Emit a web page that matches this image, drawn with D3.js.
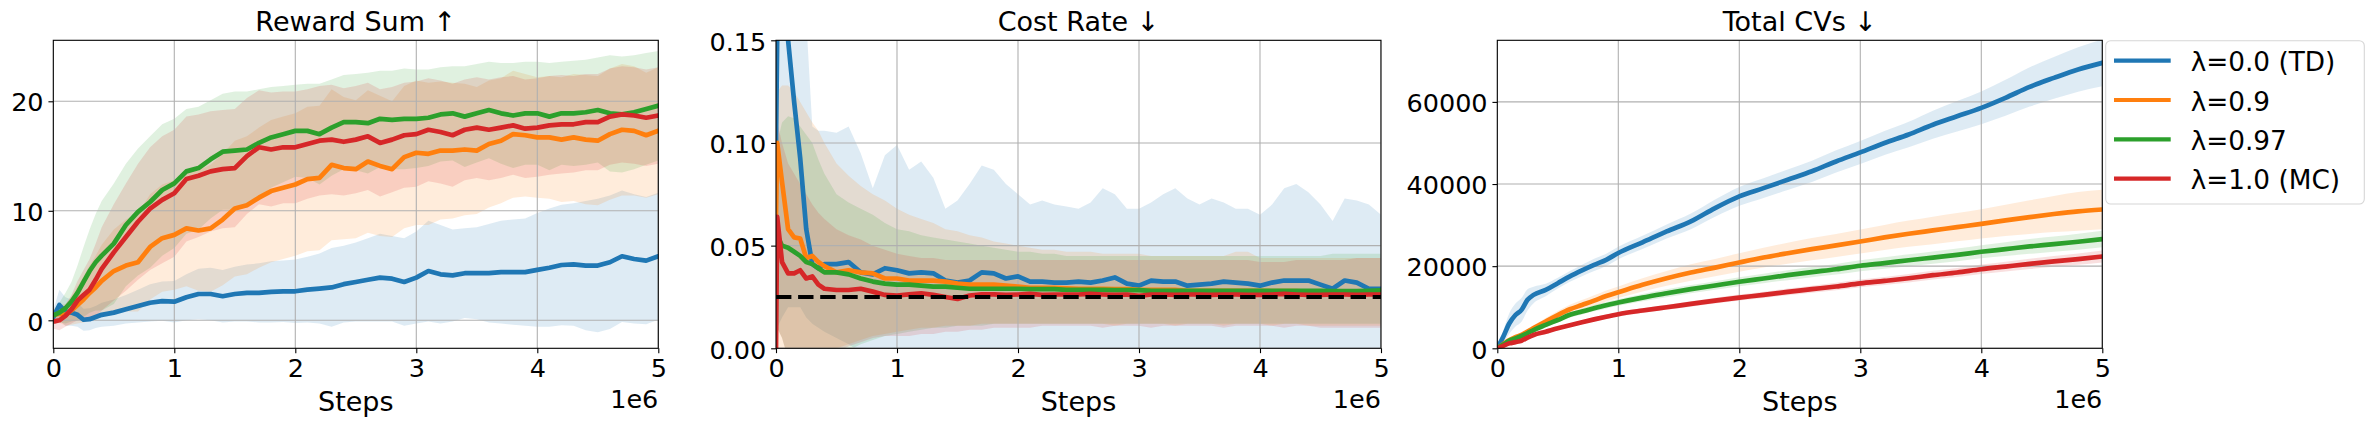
<!DOCTYPE html>
<html><head><meta charset="utf-8">
<script src="https://cdn.jsdelivr.net/npm/d3@7"></script>
<style>
html,body{margin:0;padding:0;background:#fff;}
svg{display:block;font-family:'DejaVu Sans',sans-serif;}
</style></head><body>
<svg id="chart" width="2373" height="427"></svg>
<script>
// ---------------- DATA ----------------
const seriesNames = ["λ=0.0 (TD)", "λ=0.9", "λ=0.97", "λ=1.0 (MC)"];
const seriesColors = ["#1f77b4", "#ff7f0e", "#2ca02c", "#d62728"];
const panelTitles = ["Reward Sum ↑", "Cost Rate ↓", "Total CVs ↓"];
const xTickLabels = ["0", "1", "2", "3", "4", "5"];
const rewardTicks = [0, 10, 20];
const costTicks = [0, 0.05, 0.10, 0.15];
const cvTicks = [0, 20000, 40000, 60000];
const costLimit = 0.025;

// steps in units of 1e6
const steps12 = [0,0.01,0.05,0.1,0.15,0.2,0.25,0.3,0.35,0.4,
  0.5,0.6,0.7,0.8,0.9,1.0,1.1,1.2,1.3,1.4,
  1.5,1.6,1.7,1.8,1.9,2.0,2.1,2.2,2.3,2.4,
  2.5,2.6,2.7,2.8,2.9,3.0,3.1,3.2,3.3,3.4,
  3.5,3.6,3.7,3.8,3.9,4.0,4.1,4.2,4.3,4.4,
  4.5,4.6,4.7,4.8,4.9,5.0];
const steps3 = [0,0.05,0.1,0.15,0.2,0.25,0.3,0.4,0.5,0.6,0.7,0.8,0.9,1.0,
  1.2,1.4,1.6,1.8,2.0,2.2,2.4,2.6,2.8,3.0,3.2,3.4,3.6,3.8,4.0,4.2,4.4,4.6,4.8,5.0];

// Reward Sum (mean, std)
const rewardMean_TD = [0.3,0.5,1.4,0.8,0.7,0.5,0.05,0.1,0.3,0.5,
  0.7,1.0,1.3,1.6,1.75,1.7,2.1,2.4,2.4,2.2,
  2.4,2.5,2.5,2.6,2.65,2.65,2.8,2.9,3.0,3.3,
  3.5,3.7,3.9,3.8,3.5,3.9,4.5,4.2,4.1,4.3,
  4.3,4.3,4.4,4.4,4.4,4.6,4.8,5.05,5.1,5.0,
  5.0,5.3,5.85,5.6,5.45,5.85];
const rewardStd_TD = [0.8,0.8,1.4,1.3,1.2,1.1,1.0,1.0,1.0,1.1,
  1.2,1.3,1.5,1.7,1.8,1.9,2.1,2.3,2.4,2.4,
  2.5,2.6,2.7,2.8,2.8,2.9,3.0,3.2,3.6,3.5,
  3.6,3.8,4.0,3.9,4.0,4.2,4.6,4.5,4.2,4.1,
  4.2,4.5,4.7,4.8,4.9,5.2,5.4,5.5,5.6,5.9,
  6.1,6.1,6.0,5.9,5.8,5.8];
const rewardMean_09 = [0.5,0.5,0.6,0.5,0.9,1.4,1.9,2.5,3.0,3.6,
  4.5,5.0,5.3,6.7,7.5,7.8,8.4,8.2,8.4,9.2,
  10.2,10.5,11.2,11.8,12.1,12.4,12.9,13.0,14.2,13.9,
  13.8,14.5,14.1,13.8,14.9,15.3,15.2,15.5,15.5,15.6,
  15.5,16.1,16.4,17.0,16.9,16.7,16.7,16.5,16.7,16.5,
  16.4,17.0,17.4,17.3,16.9,17.3];
const rewardStd_09 = [0.6,0.6,0.8,1.0,1.3,1.7,2.1,2.5,2.9,3.3,
  3.8,4.2,4.5,4.8,4.9,5.0,5.3,5.5,5.8,6.0,
  6.2,6.3,6.4,6.5,6.5,6.5,6.6,6.6,6.9,6.5,
  6.3,6.5,6.4,6.2,6.5,6.6,6.5,6.3,6.2,6.0,
  5.8,5.8,5.7,5.8,5.6,5.5,5.6,5.7,5.8,5.9,
  5.9,6.0,6.0,5.9,5.7,5.8];
const rewardMean_097 = [0.5,0.5,0.7,1.1,1.7,2.5,3.5,4.5,5.3,5.9,
  7.0,8.7,9.9,10.8,11.9,12.5,13.6,13.9,14.7,15.4,
  15.5,15.6,16.2,16.7,17.0,17.3,17.3,17.0,17.6,18.1,
  18.1,18.0,18.4,18.3,18.4,18.4,18.5,18.8,18.9,18.6,
  18.9,19.2,18.9,18.7,18.9,18.9,18.6,18.9,18.9,19.0,
  19.2,18.9,18.8,19.0,19.3,19.6];
const rewardStd_097 = [0.5,0.5,0.9,1.4,1.8,2.5,3.2,3.8,4.4,5.0,
  5.5,5.6,5.8,6.0,6.0,5.9,5.7,5.6,5.4,5.3,
  5.4,5.3,4.9,4.6,4.4,4.2,4.3,4.6,4.4,4.3,
  4.4,4.6,4.4,4.5,4.6,4.5,4.4,4.3,4.3,4.6,
  4.5,4.4,4.6,4.8,4.7,4.7,4.9,4.7,4.8,4.8,
  4.8,5.3,5.3,5.2,5.1,5.0];
const rewardMean_MC = [-0.1,-0.1,0.0,0.4,1.0,1.8,2.3,2.8,3.7,4.7,
  6.2,7.6,9.0,10.2,11.0,11.6,12.9,13.2,13.6,13.8,
  13.9,15.0,15.8,15.6,15.8,15.8,16.1,16.4,16.5,16.3,
  16.5,16.8,16.2,16.5,16.9,17.0,17.4,17.2,16.9,17.4,
  17.6,17.4,17.6,17.8,17.5,17.6,17.8,17.9,17.9,18.1,
  18.1,18.6,18.8,18.7,18.5,18.7];
const rewardStd_MC = [0.7,0.7,0.9,1.0,1.3,1.8,2.3,2.8,3.3,3.8,
  4.4,4.9,5.3,5.6,5.8,5.8,5.7,5.6,5.5,5.4,
  5.4,5.3,5.2,5.2,5.1,5.1,5.0,5.0,5.0,4.9,
  4.9,4.9,4.9,4.8,4.8,4.8,4.7,4.7,4.7,4.6,
  4.6,4.6,4.6,4.5,4.5,4.5,4.5,4.5,4.4,4.4,
  4.4,4.4,4.4,4.4,4.4,4.4];

// Cost Rate (mean, lower, upper)
const costMean_TD = [0.100,0.152,0.158,0.150,0.120,0.0925,0.058,0.041,0.039,0.041,
  0.041,0.042,0.037,0.036,0.039,0.038,0.0365,0.037,0.0365,0.033,
  0.032,0.033,0.037,0.0365,0.034,0.035,0.0325,0.0325,0.032,0.032,
  0.0325,0.032,0.033,0.0345,0.0315,0.0305,0.033,0.0325,0.0325,0.0305,
  0.031,0.0315,0.0325,0.032,0.0315,0.0305,0.032,0.033,0.033,0.033,
  0.031,0.029,0.033,0.032,0.029,0.029];
const costLow_TD = [0.0,0.01,0.015,0.02,0.02,0.02,0.015,0.012,0.01,0.008,
  0.005,0.002,-0.002,-0.004,-0.005,-0.005,-0.005,-0.005,-0.005,-0.005,
  -0.005,-0.005,-0.005,-0.005,-0.005,-0.005,-0.005,-0.005,-0.005,-0.005,
  -0.005,-0.005,-0.005,-0.005,-0.005,-0.005,-0.005,-0.005,-0.005,-0.005,
  -0.005,-0.005,-0.005,-0.005,-0.005,-0.005,-0.005,-0.005,-0.005,-0.005,
  -0.005,-0.005,-0.005,-0.005,-0.005,-0.005];
const costHigh_TD = [0.25,0.30,0.30,0.30,0.28,0.22,0.16,0.108,0.106,0.106,
  0.105,0.108,0.095,0.078,0.094,0.099,0.087,0.091,0.083,0.068,
  0.072,0.080,0.089,0.087,0.080,0.075,0.070,0.072,0.070,0.069,
  0.068,0.071,0.078,0.075,0.068,0.068,0.071,0.075,0.078,0.073,
  0.070,0.073,0.071,0.068,0.068,0.065,0.070,0.078,0.080,0.076,
  0.070,0.062,0.073,0.072,0.070,0.065];
const costMean_09 = [0.065,0.100,0.081,0.058,0.054,0.0535,0.044,0.045,0.042,0.040,
  0.037,0.038,0.037,0.0365,0.034,0.034,0.033,0.033,0.033,0.0325,
  0.0315,0.031,0.031,0.031,0.0305,0.030,0.0295,0.0295,0.0295,0.0292,
  0.029,0.029,0.029,0.0288,0.0288,0.0285,0.0285,0.0285,0.0285,0.028,
  0.028,0.028,0.028,0.028,0.028,0.028,0.0278,0.0278,0.0278,0.0275,
  0.0275,0.0275,0.0275,0.0275,0.0272,0.027];
const costLow_09 = [-0.02,-0.02,-0.015,-0.01,-0.008,-0.006,-0.005,-0.004,-0.003,-0.002,
  0.000,0.002,0.004,0.006,0.007,0.008,0.009,0.010,0.010,0.011,
  0.011,0.011,0.012,0.012,0.012,0.012,0.012,0.012,0.012,0.012,
  0.012,0.012,0.012,0.011,0.012,0.012,0.012,0.012,0.011,0.012,
  0.012,0.012,0.011,0.012,0.012,0.012,0.011,0.012,0.012,0.011,
  0.011,0.011,0.011,0.011,0.011,0.011];
const costHigh_09 = [0.12,0.125,0.128,0.128,0.125,0.12,0.115,0.11,0.106,0.1,
  0.09,0.084,0.079,0.075,0.072,0.068,0.065,0.063,0.061,0.058,
  0.057,0.055,0.054,0.052,0.051,0.050,0.049,0.048,0.048,0.047,
  0.047,0.047,0.046,0.046,0.046,0.046,0.045,0.045,0.045,0.045,
  0.045,0.045,0.045,0.047,0.047,0.044,0.044,0.044,0.044,0.044,
  0.044,0.044,0.044,0.044,0.044,0.044];
const costMean_097 = [0.040,0.055,0.050,0.049,0.047,0.045,0.042,0.041,0.039,0.037,
  0.037,0.036,0.034,0.0325,0.0315,0.031,0.031,0.0305,0.030,0.030,
  0.0295,0.029,0.029,0.029,0.029,0.029,0.0288,0.0288,0.0288,0.0285,
  0.0285,0.0285,0.0285,0.0283,0.0283,0.0283,0.028,0.028,0.028,0.028,
  0.028,0.028,0.028,0.028,0.028,0.028,0.028,0.028,0.028,0.028,
  0.028,0.0278,0.0278,0.0278,0.028,0.0282];
const costLow_097 = [0.0,0.01,0.005,-0.005,-0.008,-0.01,-0.01,-0.01,-0.008,-0.006,
  -0.004,-0.001,0.002,0.004,0.006,0.007,0.008,0.009,0.010,0.010,
  0.011,0.011,0.011,0.012,0.012,0.012,0.012,0.012,0.012,0.012,
  0.012,0.012,0.012,0.012,0.012,0.012,0.012,0.012,0.012,0.012,
  0.012,0.012,0.012,0.012,0.012,0.012,0.012,0.012,0.012,0.012,
  0.012,0.012,0.012,0.012,0.012,0.012];
const costHigh_097 = [0.08,0.1,0.11,0.113,0.112,0.108,0.104,0.1,0.092,0.085,
  0.075,0.071,0.068,0.065,0.061,0.058,0.057,0.055,0.054,0.053,
  0.052,0.051,0.050,0.049,0.048,0.047,0.047,0.046,0.046,0.045,
  0.045,0.045,0.045,0.045,0.045,0.045,0.045,0.045,0.045,0.045,
  0.045,0.045,0.045,0.045,0.045,0.045,0.045,0.045,0.045,0.045,
  0.045,0.046,0.046,0.046,0.046,0.046];
const costMean_MC = [0.0,0.064,0.042,0.0365,0.0365,0.038,0.034,0.035,0.031,0.029,
  0.0284,0.0284,0.029,0.0276,0.026,0.0257,0.0263,0.0268,0.026,0.025,
  0.024,0.0257,0.0263,0.0263,0.026,0.0262,0.0265,0.026,0.0262,0.0262,
  0.0262,0.0265,0.0262,0.026,0.0262,0.0255,0.0262,0.0262,0.026,0.0262,
  0.0262,0.026,0.0262,0.0262,0.026,0.026,0.0262,0.0265,0.0262,0.026,
  0.026,0.0262,0.0262,0.026,0.0262,0.0262];
const costLow_MC = [0.0,0.01,0.005,-0.005,-0.01,-0.01,-0.01,-0.008,-0.006,-0.005,
  -0.002,0.001,0.003,0.005,0.006,0.006,0.006,0.007,0.007,0.008,
  0.008,0.009,0.009,0.010,0.010,0.010,0.010,0.011,0.011,0.011,
  0.011,0.011,0.010,0.011,0.011,0.011,0.010,0.011,0.011,0.011,
  0.011,0.011,0.010,0.011,0.011,0.011,0.011,0.010,0.011,0.011,
  0.010,0.010,0.010,0.010,0.010,0.010];
const costHigh_MC = [0.07,0.11,0.1,0.09,0.085,0.08,0.075,0.07,0.066,0.063,
  0.058,0.055,0.053,0.050,0.048,0.046,0.045,0.044,0.044,0.043,
  0.043,0.043,0.043,0.043,0.043,0.043,0.043,0.043,0.043,0.043,
  0.043,0.043,0.043,0.043,0.043,0.043,0.043,0.043,0.043,0.043,
  0.043,0.043,0.043,0.043,0.043,0.042,0.042,0.042,0.043,0.043,
  0.043,0.043,0.043,0.044,0.044,0.044];

// Total CVs (mean, std)
const cvMean_TD = [0,2850,6100,8100,9350,11800,13000,14200,15850,17500,18950,20300,21550,23200,
  25800,28450,30900,34150,37000,39000,41050,43100,45500,47700,50000,52050,54450,56500,58550,61000,63650,65850,67900,69500];
const cvStd_TD = [0,1500,2500,2800,2900,2600,2000,1500,1300,1300,1400,1500,1500,1500,
  1600,1700,1900,2100,2300,2400,2500,2600,2700,2800,2900,3100,3400,3700,4000,4400,4800,5100,5400,5700];
const cvMean_09 = [0,1000,2000,2700,3250,4100,4900,6500,8100,9500,10550,11600,12750,13650,
  15450,17050,18450,19650,20900,22100,23150,24150,25050,26000,27000,27900,28700,29500,30300,31150,31950,32700,33350,33800];
const cvStd_09 = [0,150,300,400,500,600,700,900,1000,1100,1200,1300,1350,1400,
  1600,1800,2000,2100,2250,2400,2550,2700,2800,2900,3050,3200,3350,3450,3550,3800,4100,4400,4700,4800];
const cvMean_097 = [0,900,1850,2400,3000,3700,4450,5700,6900,8150,8950,9750,10500,11150,
  12350,13400,14400,15300,16200,17000,17800,18550,19250,20100,20750,21450,22100,22750,23500,24150,24800,25350,25950,26600];
const cvStd_097 = [0,120,250,330,400,450,500,550,600,650,700,750,780,800,
  880,950,1000,1050,1100,1150,1200,1250,1300,1350,1400,1450,1500,1550,1600,1700,1800,1850,1950,2000];
const cvMean_MC = [0,600,1200,1500,1850,2600,3250,4050,4900,5600,6350,7050,7700,8300,
  9200,10000,10800,11600,12350,13000,13750,14400,15050,15800,16400,17050,17800,18450,19250,19900,20550,21150,21700,22350];
const cvStd_MC = [0,100,200,250,300,330,350,400,420,450,470,500,520,540,
  580,620,660,700,740,780,820,860,900,940,980,1020,1060,1100,1150,1200,1260,1320,1380,1450];

// ---------------- DRAWING ----------------
const FS_TICK = 25.5, FS_LABEL = 27, FS_LEG = 26.3;
const plotW = 605, plotH = 308, plotTop = 40.3;
const lefts = [53.3, 776, 1497.3];
const LW = 4.17;
const DATA_LW = 4.7;

const lower = (m, s) => m.map((v, i) => v - s[i]);
const upper = (m, s) => m.map((v, i) => v + s[i]);

const panels = [
  { title: panelTitles[0], steps: steps12,
    means: [rewardMean_TD, rewardMean_09, rewardMean_097, rewardMean_MC],
    lows: [lower(rewardMean_TD, rewardStd_TD), lower(rewardMean_09, rewardStd_09), lower(rewardMean_097, rewardStd_097), lower(rewardMean_MC, rewardStd_MC)],
    highs: [upper(rewardMean_TD, rewardStd_TD), upper(rewardMean_09, rewardStd_09), upper(rewardMean_097, rewardStd_097), upper(rewardMean_MC, rewardStd_MC)],
    yDomain: [-2.557, 25.57], yTicks: rewardTicks, fmt: d3.format("d"), curve: d3.curveLinear },
  { title: panelTitles[1], steps: steps12,
    means: [costMean_TD, costMean_09, costMean_097, costMean_MC],
    lows: [costLow_TD, costLow_09, costLow_097, costLow_MC],
    highs: [costHigh_TD, costHigh_09, costHigh_097, costHigh_MC],
    yDomain: [0, 0.15], yTicks: costTicks, fmt: d3.format(".2f"), curve: d3.curveLinear, hline: costLimit },
  { title: panelTitles[2], steps: steps3,
    means: [cvMean_TD, cvMean_09, cvMean_097, cvMean_MC],
    lows: [lower(cvMean_TD, cvStd_TD), lower(cvMean_09, cvStd_09), lower(cvMean_097, cvStd_097), lower(cvMean_MC, cvStd_MC)],
    highs: [upper(cvMean_TD, cvStd_TD), upper(cvMean_09, cvStd_09), upper(cvMean_097, cvStd_097), upper(cvMean_MC, cvStd_MC)],
    yDomain: [0, 75000], yTicks: cvTicks, fmt: d3.format("d"), curve: d3.curveMonotoneX }
];

const svg = d3.select("#chart");

panels.forEach((p, pi) => {
  const g = svg.append("g").attr("transform", `translate(${lefts[pi]},${plotTop})`);
  const x = d3.scaleLinear().domain([0, 5]).range([0, plotW]);
  const y = d3.scaleLinear().domain(p.yDomain).range([plotH, 0]);
  const clipId = "clip" + pi;
  g.append("clipPath").attr("id", clipId).append("rect").attr("width", plotW).attr("height", plotH);
  const plot = g.append("g").attr("clip-path", `url(#${clipId})`);

  // bands
  p.means.forEach((m, si) => {
    const data = p.steps.map((s, i) => ({ s, lo: p.lows[si][i], hi: p.highs[si][i] }));
    plot.append("path").datum(data)
      .attr("d", d3.area().x(d => x(d.s)).y0(d => y(d.lo)).y1(d => y(d.hi)).curve(p.curve))
      .attr("fill", seriesColors[si]).attr("fill-opacity", 0.15);
  });

  // grid
  const grid = plot.append("g");
  grid.selectAll("line.gx").data(d3.range(0, 6)).join("line")
    .attr("x1", d => x(d)).attr("x2", d => x(d)).attr("y1", 0).attr("y2", plotH)
    .attr("stroke", "#b0b0b0").attr("stroke-width", 1.1);
  grid.selectAll("line.gy").data(p.yTicks).join("line")
    .attr("x1", 0).attr("x2", plotW).attr("y1", d => y(d)).attr("y2", d => y(d))
    .attr("stroke", "#b0b0b0").attr("stroke-width", 1.1);

  // lines
  p.means.forEach((m, si) => {
    const data = p.steps.map((s, i) => ({ s, v: m[i] }));
    plot.append("path").datum(data)
      .attr("d", d3.line().x(d => x(d.s)).y(d => y(d.v)).curve(p.curve))
      .attr("fill", "none").attr("stroke", seriesColors[si]).attr("stroke-width", DATA_LW)
      .attr("stroke-linejoin", "round").attr("stroke-linecap", "square");
  });

  if (p.hline !== undefined) {
    plot.append("line").attr("x1", 0).attr("x2", plotW)
      .attr("y1", y(p.hline)).attr("y2", y(p.hline))
      .attr("stroke", "#000").attr("stroke-width", LW).attr("stroke-dasharray", "15.4,6.7");
  }

  // axes
  const xAxis = d3.axisBottom(x).tickValues([0, 1, 2, 3, 4, 5]).tickFormat((d, i) => xTickLabels[i])
    .tickSize(4.86).tickPadding(4.86);
  const gx = g.append("g").attr("transform", `translate(0,${plotH})`).call(xAxis);
  const yAxis = d3.axisLeft(y).tickValues(p.yTicks).tickFormat(p.fmt).tickSize(4.86).tickPadding(4.86);
  const gy = g.append("g").call(yAxis);
  [gx, gy].forEach(a => {
    a.select(".domain").remove();
    a.selectAll(".tick line").attr("stroke", "#000").attr("stroke-width", 1.1);
    a.selectAll(".tick text").attr("fill", "#000").style("font-size", FS_TICK + "px")
      .style("font-family", "'DejaVu Sans', sans-serif");
  });
  gx.selectAll(".tick text").attr("dy", "0.76em");
  gy.selectAll(".tick text").attr("dy", "0.38em");

  // spines
  g.append("rect").attr("width", plotW).attr("height", plotH)
    .attr("fill", "none").attr("stroke", "#000").attr("stroke-width", 1.1);

  // title and labels
  g.append("text").attr("x", plotW / 2).attr("y", 30.7 - plotTop).attr("text-anchor", "middle")
    .style("font-size", FS_LABEL + "px").text(p.title);
  g.append("text").attr("x", plotW / 2).attr("y", 411 - plotTop).attr("text-anchor", "middle")
    .style("font-size", FS_LABEL + "px").text("Steps");
  g.append("text").attr("x", plotW).attr("y", 408.5 - plotTop).attr("text-anchor", "end")
    .style("font-size", FS_TICK + "px").text("1e6");
});

// legend
const leg = svg.append("g");
leg.append("rect").attr("x", 2105.7).attr("y", 40.7).attr("width", 258.6).attr("height", 163.3)
  .attr("rx", 5).attr("ry", 5).attr("fill", "#fff").attr("fill-opacity", 0.8)
  .attr("stroke", "#d6d6d6").attr("stroke-width", 1.1);
seriesNames.forEach((name, i) => {
  const cy = 60.7 + i * 39.3;
  leg.append("line").attr("x1", 2114).attr("x2", 2170.7).attr("y1", cy).attr("y2", cy)
    .attr("stroke", seriesColors[i]).attr("stroke-width", LW);
  leg.append("text").attr("x", 2190.7).attr("y", cy + 10.5).style("font-size", FS_LEG + "px").text(name);
});
</script>
</body></html>
